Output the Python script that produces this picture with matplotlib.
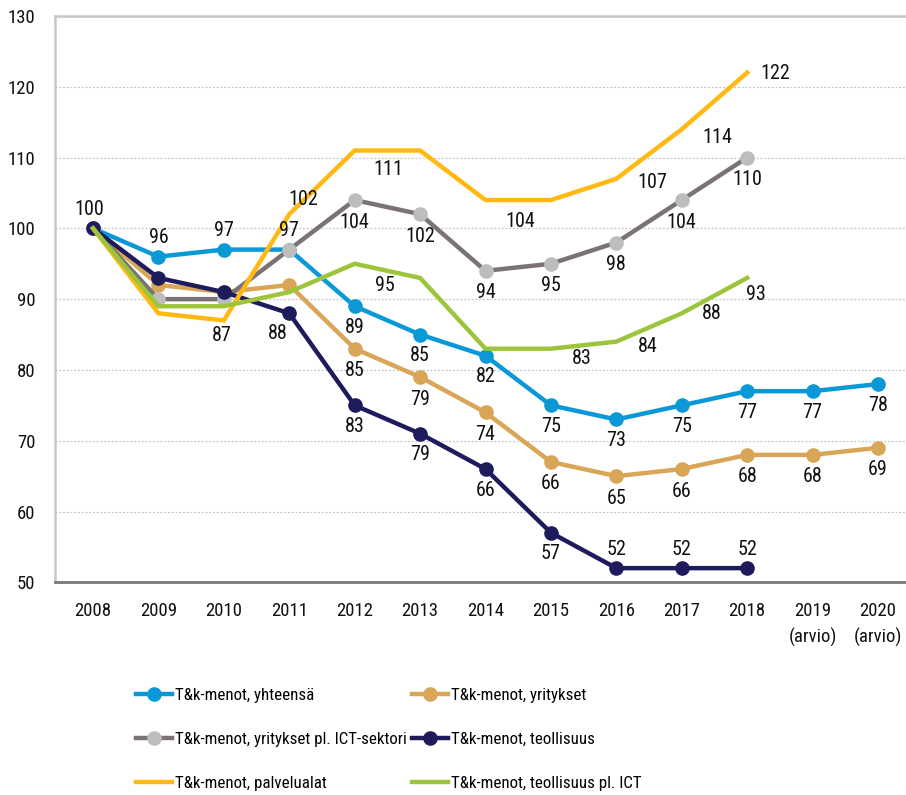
import matplotlib
matplotlib.use("Agg")
import matplotlib.pyplot as plt
from matplotlib.lines import Line2D

# Data
years = ["2008", "2009", "2010", "2011", "2012", "2013", "2014", "2015",
         "2016", "2017", "2018", "2019\n(arvio)", "2020\n(arvio)"]

yhteensa = [100, 96, 97, 97, 89, 85, 82, 75, 73, 75, 77, 77, 78]
yritykset = [100, 92, 91, 92, 83, 79, 74, 67, 65, 66, 68, 68, 69]
yritykset_pl_ict = [100, 90, 90, 97, 104, 102, 94, 95, 98, 104, 110]
teollisuus = [100, 93, 91, 88, 75, 71, 66, 57, 52, 52, 52]
palvelualat = [100, 88, 87, 102, 111, 111, 104, 104, 107, 114, 122]
teollisuus_pl_ict = [100, 89, 89, 91, 95, 93, 83, 83, 84, 88, 93]

# Data labels as printed in the chart (None = no label)
lbl_yhteensa = ["100", "96", "97", "97", "89", "85", "82", "75", "73", "75", "77", "77", "78"]
lbl_yritykset = [None, None, None, None, "85", "79", "74", "66", "65", "66", "68", "68", "69"]
lbl_yritykset_pl_ict = [None, None, None, None, "104", "102", "94", "95", "98", "104", "110"]
lbl_teollisuus = [None, None, None, "88", "83", "79", "66", "57", "52", "52", "52"]
lbl_palvelualat = [None, None, "87", "102", "111", None, "104", None, "107", "114", "122"]
lbl_teollisuus_pl_ict = [None, None, None, None, "95", None, None, "83", "84", "88", "93"]

names = ["T&k-menot, yhteensä", "T&k-menot, yritykset",
         "T&k-menot, yritykset pl. ICT-sektori", "T&k-menot, teollisuus",
         "T&k-menot, palvelualat", "T&k-menot, teollisuus pl. ICT"]

# Styles
BLUE = "#0a99d6"
TAN = "#d9a556"
GRAY_LINE = "#7a7273"
GRAY_MARK = "#bdbdbd"
NAVY = "#1e1b5c"
YELLOW = "#ffb912"
GREEN = "#9dc53c"

# label offsets in pixels (dx, dy), dy positive = up
off_yhteensa = [(-4, 19)] + [(0, 19)] * 3 + [(0, -21)] * 9
off_yritykset = [(0, -22)] * 13
off_pl_ict = [(0, -22)] * 11
off_teollisuus = [(0, 0)] * 3 + [(-12, -20)] + [(0, -21)] * 4 + [(0, 19)] * 3
off_palvelu = [(0, 0), (0, 0), (-2, -15), (14, 15), (34, -19), (0, 0), (35, -21),
               (0, 0), (36, -4), (36, -8), (28, -1)]
off_teol_pl = [(0, 0)] * 4 + [(30, -22), (0, 0), (0, 0), (31, -10), (31, -5),
                              (30, 0), (9, -17)]

plt.rcParams["font.family"] = ["Roboto Condensed", "Liberation Sans Narrow",
                               "DejaVu Sans"]
plt.rcParams["font.stretch"] = "condensed"

fig = plt.figure(figsize=(9.06, 7.95), dpi=100)
ax = fig.add_axes([55 / 906, 212.7 / 795, 1 - 55 / 906, 566.3 / 795])

x_all = list(range(len(years)))

series = [
    (yhteensa, lbl_yhteensa, off_yhteensa, BLUE, BLUE, True),
    (yritykset, lbl_yritykset, off_yritykset, TAN, TAN, True),
    (yritykset_pl_ict, lbl_yritykset_pl_ict, off_pl_ict, GRAY_LINE, GRAY_MARK, True),
    (teollisuus, lbl_teollisuus, off_teollisuus, NAVY, NAVY, True),
    (palvelualat, lbl_palvelualat, off_palvelu, YELLOW, YELLOW, False),
    (teollisuus_pl_ict, lbl_teollisuus_pl_ict, off_teol_pl, GREEN, GREEN, False),
]

handles = []
for vals, lbls, offs, lc, mc, marked in series:
    xs = x_all[:len(vals)]
    ax.plot(xs, vals, color=lc, lw=3.2, solid_joinstyle="miter",
            marker="o" if marked else None, markersize=9.5,
            markerfacecolor=mc, markeredgecolor=mc, zorder=3)
    handles.append(Line2D([], [], color=lc, lw=3.2,
                          marker="o" if marked else None, markersize=9.5,
                          markerfacecolor=mc, markeredgecolor=mc))
    for xi, v, t, (dx, dy) in zip(xs, vals, lbls, offs):
        if t is None:
            continue
        ax.annotate(t, (xi, v), xytext=(dx, dy), textcoords="offset pixels",
                    ha="center", va="center", fontsize=14.5, color="#111111",
                    zorder=5)

ax.set_xlim(-38 / 65.4, 12 + 28 / 65.4)
ax.set_ylim(50, 130)
ax.set_yticks(range(50, 131, 10))
ax.set_xticks(x_all)
ax.set_xticklabels(years, linespacing=1.55)
ax.tick_params(axis="both", length=0, labelsize=13.5, colors="#111111")
ax.tick_params(axis="x", pad=14)
ax.tick_params(axis="y", pad=14)

ax.yaxis.grid(True, color="#c4c4c4", linestyle=(0, (1.5, 1.5)), lw=0.9)
ax.set_axisbelow(True)
ax.spines["right"].set_visible(False)
ax.spines["top"].set_color("#c8c8c8")
ax.spines["top"].set_linewidth(1.8)
ax.spines["left"].set_color("#c8c8c8")
ax.spines["left"].set_linewidth(1.8)
ax.spines["bottom"].set_color("#777777")
ax.spines["bottom"].set_linewidth(2)

# Legend in two columns, three rows
leg_kw = dict(frameon=False, fontsize=12.2,
              handlelength=2.15, handletextpad=0.17,
              labelspacing=1.71, loc="upper left", borderaxespad=0, borderpad=0)
left = [0, 2, 4]
right = [1, 3, 5]
leg1 = fig.legend([handles[i] for i in left], [names[i] for i in left],
                  bbox_to_anchor=(136 / 906, 1 - 688 / 795), **leg_kw)
leg2 = fig.legend([handles[i] for i in right], [names[i] for i in right],
                  bbox_to_anchor=(412 / 906, 1 - 688 / 795), **leg_kw)

fig.savefig("out.png", dpi=100)
